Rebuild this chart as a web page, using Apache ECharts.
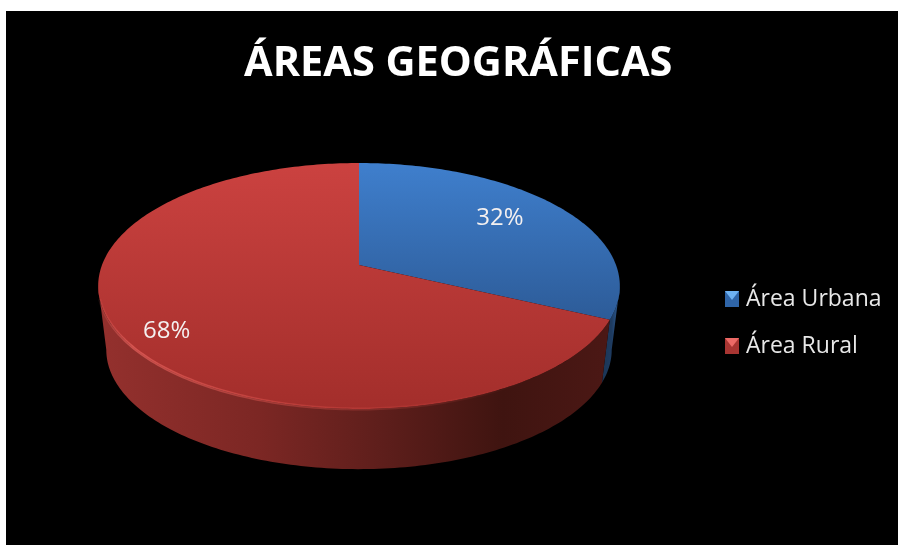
<!DOCTYPE html>
<html>
<head>
<meta charset="utf-8">
<style>
  html, body { margin: 0; height: 100%; background: #fff; overflow: hidden; }
  #chart { position: absolute; left: 6px; top: 11px; width: 892px; height: 534px; }
</style>
<script src="https://cdn.jsdelivr.net/npm/echarts@6/dist/echarts.min.js"></script>
</head>
<body>
<div id="chart"></div>
<script>
// data
const categories = ['Área Urbana', 'Área Rural']
const values = [32, 68]
const titleText = 'ÁREAS GEOGRÁFICAS'

// look of each slice
const topColors = [['#3f7fcd', '#2c5a96'], ['#cb4240', '#a32e2b']]
const topGradientEnd = [315, 398]
const wallColors = [
  [[0, '#1b3555'], [0.55, '#1e3b60'], [1, '#30609a']],
  [[0, '#93302d'], [0.3, '#7c2724'], [0.55, '#5d1e1b'], [0.78, '#3f1410'], [1, '#4c1815']]
]
const legendColors = ['#2f65a8', '#a83532']
const labelRadius = [0.69, 0.82]
const labelDy = [-5, 9]

// perspective pie: the unit circle is projected so the apex sits above the ellipse centre
const P = -0.1707
const topFace = { x: 353, y: 254, a: 257, b: 119.4 }
const bottomFace = { x: 353, y: 318.5, a: 249, b: 115.8 }
const SILHOUETTE = Math.acos(P)

function project(face, deg, r) {
  const t = deg * Math.PI / 180
  const u = Math.sin(t) * r
  const v = -Math.cos(t) * r
  const w = 1 + P * v
  return [face.x + face.a * u / w, face.y + face.b * v / w]
}

function arc(face, from, to) {
  const pts = []
  const n = Math.max(2, Math.ceil(Math.abs(to - from)))
  for (let i = 0; i <= n; i++) pts.push(project(face, from + (to - from) * i / n, 1))
  return pts
}

const total = values.reduce((a, b) => a + b, 0)

function sliceRange(idx) {
  const before = values.slice(0, idx).reduce((a, b) => a + b, 0)
  return [before / total * 360, (before + values[idx]) / total * 360]
}

function renderSlice(idx) {
  return function (params, api) {
    const value = api.value(0)
    const [start, end] = sliceRange(idx)
    const mid = (start + end) / 2
    const children = []
    const silh = SILHOUETTE * 180 / Math.PI
    const wallFrom = Math.max(start, silh)
    const wallTo = Math.min(end, 360 - silh)
    if (wallTo > wallFrom) {
      const pts = arc(topFace, wallFrom, wallTo).concat(arc(bottomFace, wallTo, wallFrom))
      const xs = pts.map(p => p[0])
      children.push({
        type: 'polygon',
        shape: { points: pts },
        style: {
          fill: new echarts.graphic.LinearGradient(
            idx === 0 ? Math.min.apply(null, xs) : 100, 0,
            idx === 0 ? Math.max.apply(null, xs) : 608, 0,
            wallColors[idx].map(s => ({ offset: s[0], color: s[1] })), true)
        }
      })
    }
    children.push({
      type: 'polygon',
      shape: { points: [[topFace.x, topFace.y]].concat(arc(topFace, start, end)) },
      style: {
        fill: new echarts.graphic.LinearGradient(0, 152, 0, topGradientEnd[idx], [
          { offset: 0, color: topColors[idx][0] },
          { offset: 1, color: topColors[idx][1] }
        ], true)
      }
    })
    // soft bevel on the front left of the rim, fading out at both ends
    if (idx === 1) {
      children.push({
        type: 'polyline',
        shape: { points: arc(topFace, start, 360 - silh - 6) },
        style: {
          fill: 'none',
          lineWidth: 3,
          stroke: new echarts.graphic.LinearGradient(92, 0, 520, 0, [
            { offset: 0, color: 'rgba(236,100,95,0.1)' },
            { offset: 0.08, color: 'rgba(236,100,95,0.65)' },
            { offset: 0.45, color: 'rgba(225,85,80,0.4)' },
            { offset: 1, color: 'rgba(210,70,65,0)' }
          ], true)
        }
      })
    }
    const lp = project(topFace, mid, labelRadius[idx])
    children.push({
      type: 'text',
      style: {
        x: lp[0], y: lp[1] + labelDy[idx],
        text: Math.round(value / total * 100) + '%',
        fill: '#f4f0f0',
        font: '24px "Open Sans", "Noto Sans", sans-serif',
        align: 'center', verticalAlign: 'middle'
      }
    })
    return { type: 'group', children }
  }
}

const chart = echarts.init(document.getElementById('chart'))
chart.setOption({
  backgroundColor: '#000',
  animation: false,
  title: {
    text: titleText,
    left: 233,
    top: 27,
    textStyle: { color: '#fff', fontSize: 41.5, fontWeight: 'bold', fontFamily: '"Open Sans", "Noto Sans", sans-serif' }
  },
  legend: {
    orient: 'vertical',
    left: 719,
    top: 273,
    padding: 0,
    itemWidth: 14,
    itemHeight: 16,
    itemGap: 17,
    icon: 'rect',
    data: categories.map((name, i) => ({ name, itemStyle: { color: legendColors[i] } })),
    textStyle: { color: '#e8e8e8', fontSize: 23, lineHeight: 24, padding: [6, 0, 0, 2], fontFamily: '"Open Sans", "Noto Sans", sans-serif' }
  },
  graphic: [
    { type: 'polygon', z: 10, shape: { points: [[719, 280], [733, 280], [726, 289]] }, style: { fill: '#6db1f2' }, silent: true },
    { type: 'polygon', z: 10, shape: { points: [[719, 327], [733, 327], [726, 336]] }, style: { fill: '#ec6a66' }, silent: true }
  ],
  series: categories.map((name, i) => ({
    type: 'custom',
    name,
    coordinateSystem: 'none',
    itemStyle: { color: legendColors[i] },
    renderItem: renderSlice(i),
    data: [[values[i]]]
  }))
})
</script>
</body>
</html>
